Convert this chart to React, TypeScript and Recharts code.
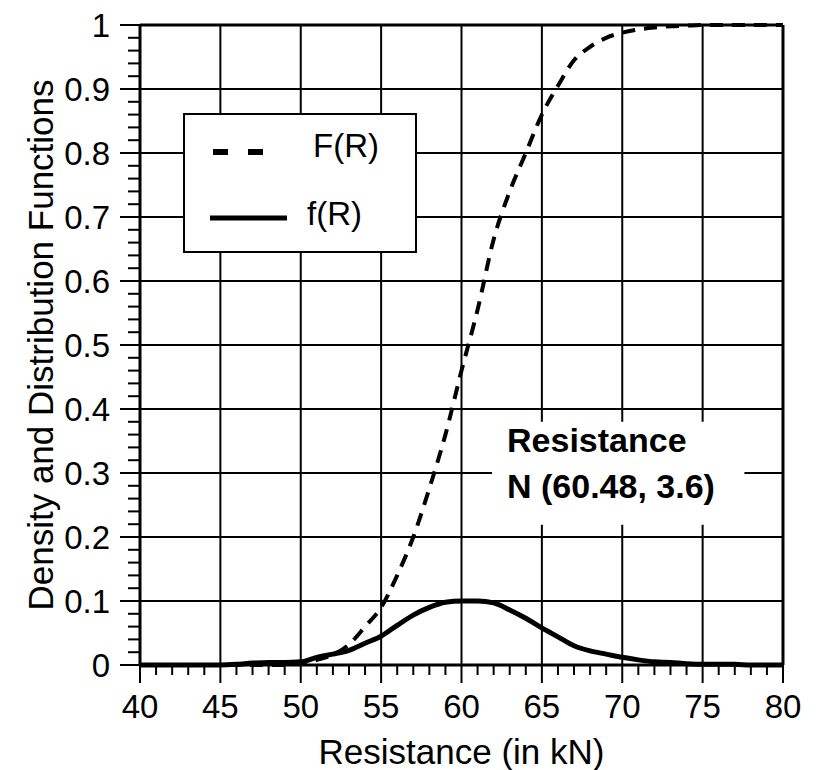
import React from 'react'
import {
  LineChart, Line, XAxis, YAxis, CartesianGrid,
  ReferenceArea, ReferenceLine, Legend
} from 'recharts'

// resistance values (kN), read every 1 kN
const resistance = [
  40, 41, 42, 43, 44, 45, 46, 47, 48, 49,
  50, 51, 52, 53, 54, 55, 56, 57, 58, 59,
  60, 61, 62, 63, 64, 65, 66, 67, 68, 69,
  70, 71, 72, 73, 74, 75, 76, 77, 78, 79, 80,
]

// F(R) - distribution function (dashed)
const cdf = [
  0, 0, 0, 0, 0, 0, 0, 0, 0, 0,
  0.003, 0.008, 0.016, 0.032, 0.06, 0.09, 0.14, 0.2, 0.276, 0.36,
  0.46, 0.555, 0.665, 0.74, 0.8, 0.86, 0.905, 0.945, 0.966, 0.98,
  0.988, 0.993, 0.996, 0.998, 0.999, 1, 1, 1, 1, 1, 1,
]

// f(R) - density function (solid)
const pdf = [
  0, 0, 0, 0, 0, 0, 0.001, 0.003, 0.004, 0.004,
  0.005, 0.012, 0.017, 0.023, 0.034, 0.045, 0.062, 0.078, 0.09, 0.098,
  0.1, 0.1, 0.097, 0.086, 0.073, 0.058, 0.044, 0.03, 0.022, 0.017,
  0.012, 0.008, 0.005, 0.004, 0.002, 0.001, 0.001, 0.001, 0, 0, 0,
]

const xMajor = [40, 45, 50, 55, 60, 65, 70, 75, 80]
const yMajor = [0, 0.1, 0.2, 0.3, 0.4, 0.5, 0.6, 0.7, 0.8, 0.9, 1]
const xMinor = resistance
const yMinor = Array.from({ length: 51 }, (_, i) => i / 50)

const data = resistance.map((r, i) => ({ r, F: cdf[i], f: pdf[i] }))

const FONT = '"Liberation Sans", Arial, sans-serif'
const INK = '#000'

const XTick = (props: any) => {
  const { x, y, payload } = props
  const v = payload.value
  const major = xMajor.includes(v)
  return (
    <g>
      <line x1={x} y1={y} x2={x} y2={y + (major ? 18 : 10)} stroke={INK} strokeWidth={2} />
      {major && (
        <text x={x} y={y + 53} textAnchor="middle" fontSize={33} fontFamily={FONT} fill={INK}>
          {v}
        </text>
      )}
    </g>
  )
}

const YTick = (props: any) => {
  const { x, y, payload } = props
  const v = Math.round(payload.value * 100) / 100
  const major = Math.abs(v * 10 - Math.round(v * 10)) < 1e-6
  return (
    <g>
      <line x1={x} y1={y} x2={x - (major ? 20 : 12)} y2={y} stroke={INK} strokeWidth={2} />
      {major && (
        <text x={x - 30} y={y + 12} textAnchor="end" fontSize={33} fontFamily={FONT} fill={INK}>
          {String(v)}
        </text>
      )}
    </g>
  )
}

const YTitle = (props: any) => {
  const { y, height } = props.viewBox
  const cy = y + height / 2
  return (
    <text x={53} y={cy} transform={`rotate(-90, 53, ${cy})`} textAnchor="middle"
      fontSize={35} fontFamily={FONT} fill={INK}>
      Density and Distribution Functions
    </text>
  )
}

const XTitle = (props: any) => {
  const { x, y, width } = props.viewBox
  return (
    <text x={x + width / 2} y={y + 99} textAnchor="middle" fontSize={35} fontFamily={FONT} fill={INK}>
      Resistance (in kN)
    </text>
  )
}

const Note = (props: any) => {
  const { x, y } = props.viewBox
  return (
    <g fontFamily={FONT} fontWeight="bold" fontSize={34} fill={INK}>
      <text x={x + 15} y={y + 30}>Resistance</text>
      <text x={x + 15} y={y + 76}>N (60.48, 3.6)</text>
    </g>
  )
}

const LegendBox = () => (
  <div style={{
    width: 234, height: 140, border: `2px solid ${INK}`, background: '#fff',
    boxSizing: 'border-box',
  }}>
    <svg width={230} height={136} style={{ display: 'block' }}>
      <line x1={28} y1={37} x2={78} y2={37} stroke={INK} strokeWidth={6} strokeDasharray="15 20" />
      <text x={128} y={42} fontSize={33} fontFamily={FONT} fill={INK}>F(R)</text>
      <line x1={25} y1={103} x2={102} y2={103} stroke={INK} strokeWidth={5} />
      <text x={122} y={110} fontSize={33} fontFamily={FONT} fill={INK}>f(R)</text>
    </svg>
  </div>
)

export default function App() {
  return (
    <div style={{ position: 'absolute', left: 0, top: 0, background: '#fff' }}>
      <LineChart width={816} height={770} data={data}
        margin={{ top: 25, right: 33, left: 0, bottom: 0 }}>
        <CartesianGrid stroke={INK} strokeWidth={2}
          verticalValues={xMajor} horizontalValues={yMajor} />
        <XAxis dataKey="r" type="number" domain={[40, 80]} ticks={xMinor} interval={0}
          height={105} tickSize={0} tickMargin={0} tick={<XTick />} tickLine={false}
          axisLine={{ stroke: INK, strokeWidth: 3 }} label={<XTitle />} />
        <YAxis type="number" domain={[0, 1]} ticks={yMinor} interval={0}
          width={140} tickSize={0} tickMargin={0} tick={<YTick />} tickLine={false}
          axisLine={{ stroke: INK, strokeWidth: 3 }} label={<YTitle />} />
        <ReferenceLine x={80} stroke={INK} strokeWidth={3} />
        <ReferenceLine y={1} stroke={INK} strokeWidth={3} />
        <ReferenceArea x1={61.9} x2={77.6} y1={0.219} y2={0.38}
          fill="#fff" fillOpacity={1} stroke="none" label={<Note />} />
        <Line type="monotone" dataKey="F" stroke={INK} strokeWidth={4}
          strokeDasharray="13 9" dot={false} isAnimationActive={false} />
        <Line type="monotone" dataKey="f" stroke={INK} strokeWidth={5}
          dot={false} isAnimationActive={false} />
        <Legend layout="vertical" align="center" verticalAlign="middle"
          content={<LegendBox />}
          wrapperStyle={{ left: 183, top: 113, width: 234, height: 140 }} />
      </LineChart>
    </div>
  )
}
